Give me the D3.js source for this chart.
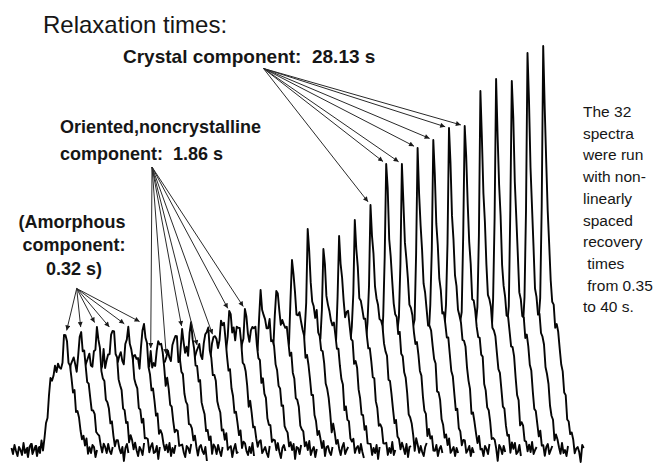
<!DOCTYPE html>
<html>
<head>
<meta charset="utf-8">
<script src="https://cdn.jsdelivr.net/npm/d3@7"></script>
<style>
  html, body { margin: 0; padding: 0; background: #fff; }
  svg { display: block; font-family: "Liberation Sans", Arial, sans-serif; }
</style>
</head>
<body>
<svg id="chart" width="658" height="471"></svg>
<script>
// ---- data ---------------------------------------------------------------
// 32 spectra, index 0 = shortest recovery time (front of the stack)
const spectrumIndex = d3.range(32);

// height of the sharp crystalline line in each spectrum (intensity units)
const crystalHeight = [87, 92, 95, 98, 100, 98, 92, 100, 116, 106, 120, 144, 141, 162, 168, 195,
                       218, 198, 210, 228, 243, 290, 282, 297, 310, 322, 330, 354, 364, 371, 394, 397];
// level of the broad (oriented, noncrystalline) band
const broadLevel = [75, 76, 78, 79, 80, 80, 82, 84, 86, 88, 90, 92, 94, 96, 98, 100,
                    102, 104, 106, 108, 110, 112, 114, 116, 118, 119, 120, 122, 123, 124, 125, 126];
// extra height of the amorphous shoulder above the broad band
const amorphousHeight = [42, 43, 40, 44, 41, 46, 30, 33, 34, 34, 42, 30, 28, 28, 26, 26,
                         24, 22, 22, 20, 20, 18, 18, 16, 16, 14, 14, 12, 12, 10, 10, 10];

// component lineshapes on the 58-point grid of one spectrum (point 30 = crystalline line)
const broadShape = [0,0,0,0,0,0,0,0,0,0, 0,0,0,0,0,0,0,0,0,0,
                    0.02,0.06,0.16,0.32,0.52,0.72,0.88,0.96,1,1,
                    1,0.98,0.96,0.97,0.99,1,1,1,0.99,0.96,
                    0.9,0.82,0.72,0.6,0.48,0.38,0.29,0.21,0.15,0.1,
                    0.06,0.03,0.01,0,0,0,0,0];
const amorphousShape = [0,0,0,0,0,0,0,0,0,0, 0,0,0,0,0,0,0,0,0,0,
                        0,0,0,0,0,0,0,0,0,0, 0,0,0,0.1,0.35,0.75,1,0.8,0.45,0.2,
                        0.08,0,0,0,0,0,0,0,0,0, 0,0,0,0,0,0,0,0];
const crystalShape = [0,0,0,0,0,0,0,0,0,0, 0,0,0,0,0,0,0,0,0,0,
                      0,0,0,0,0,0,0,0.03,0.1,0.45,
                      1,0.82,0.62,0.45,0.27,0.13,0.06,0.02,0,0,
                      0,0,0,0,0,0,0,0,0,0, 0,0,0,0,0,0,0,0];
const CENTER = 30;

// baseline noise track shared by the spectra
const noise = [2,-4,5,-1,-6,3,0,-5,7,-3,1,-7,3,6,-4,0,4,-6,2,-3,8,-5,0,3,-7,1,6,-3,-2,4,
               -9,3,3,-1,-5,7,-3,0,-6,4,1,-4,6,-7,3,4,-2,-5,3,-3,7,-6,2,-3,5,3,-7,0,3,-2,
               -12,5,2,-4,4,-2,-6,3,7,-4,0,3,-3,-7,4,2,-3,6,-1,-4,3,-10,4,0,7,-4,-2,5,-6,1,
               4,-3,6,-2,-8,2,5,-1,-4,3,-11,2,6,-3,1,-5,4,-2,8,-4,0,3,-6,2,-3,5,-9,3];

// spectra pointed at by each annotation
const amorphousTargets = [0, 1, 2, 3, 4, 5];
const orientedTargets = [6, 7, 8, 9, 10, 11, 12];
const crystalTargets = [20, 21, 22, 23, 24, 25, 26];

const noteLines = ["The 32", "spectra", "were run", "with non-", "linearly", "spaced",
                   "recovery", " times", " from 0.35", "to 40 s."];

// ---- layout -------------------------------------------------------------
const SHIFT = 10.467;            // grid points between successive spectra
const svg = d3.select("#chart");
const W = 658, H = 471;

const x = d3.scaleLinear().domain([0, 31 * SHIFT]).range([56.5, 543.2]);
const y = d3.scaleLinear().domain([0, 400]).range([450, 50]);

function spectrumPoints(i) {
  const crys = crystalHeight[i] - broadLevel[i];
  return broadShape.map((b, k) => ({
    u: i * SHIFT + (k - CENTER),
    v: broadLevel[i] * b + amorphousHeight[i] * amorphousShape[k] +
       crys * crystalShape[k] + noise[(k + i * 23) % noise.length]
  }));
}
const spectra = spectrumIndex.map(spectrumPoints);

const line = d3.line().x(d => x(d.u)).y(d => y(d.v));
const area = d3.area().x(d => x(d.u)).y0(H).y1(d => y(d.v));

// back spectra first; each one hides what lies beneath it
const stack = svg.append("g");
spectrumIndex.slice().reverse().forEach(i => {
  const pts = spectra[i];
  const g = stack.append("g");
  g.append("path").attr("d", area(pts)).attr("fill", "#fff");
  g.append("path").attr("d", line(pts))
    .attr("fill", "none").attr("stroke", "#050505")
    .attr("stroke-width", 1.9).attr("stroke-linejoin", "round");
});

// ---- annotations --------------------------------------------------------
svg.append("defs").append("marker")
  .attr("id", "head").attr("viewBox", "0 0 10 10")
  .attr("refX", 10).attr("refY", 5)
  .attr("markerWidth", 6).attr("markerHeight", 5)
  .attr("markerUnits", "userSpaceOnUse").attr("orient", "auto")
  .append("path").attr("d", "M0,0L10,5L0,10z").attr("fill", "#1a1a1a");

function arrow(x0, y0, p, gap) {
  const x1 = x(p.u), y1 = y(p.v);
  const dx = x1 - x0, dy = y1 - y0, len = Math.hypot(dx, dy);
  svg.append("line")
    .attr("x1", x0).attr("y1", y0)
    .attr("x2", x1 - dx / len * gap).attr("y2", y1 - dy / len * gap)
    .attr("stroke", "#2a2a2a").attr("stroke-width", 1)
    .attr("marker-end", "url(#head)");
}

amorphousTargets.forEach(i => arrow(76.7, 288.5, spectra[i][36], 5));
orientedTargets.forEach(i => arrow(152, 167, spectra[i][CENTER], 3));
crystalTargets.forEach(i => arrow(263.5, 68.5, spectra[i][CENTER], 4));

const text = (tx, ty, s, size, weight, anchor) =>
  svg.append("text").attr("x", tx).attr("y", ty)
    .attr("font-size", size).attr("font-weight", weight || "normal")
    .attr("text-anchor", anchor || "start")
    .attr("fill", "#161616").style("white-space", "pre").text(s);

text(43, 33, "Relaxation times:", 24);
text(123, 63, "Crystal component:  28.13 s", 19, "bold");
text(60, 133, "Oriented,noncrystalline", 18, "bold");
text(60, 160, "component:  1.86 s", 18, "bold");
text(72, 228, "(Amorphous", 18, "bold", "middle");
text(74, 251, "component:", 18, "bold", "middle");
text(74, 275, "0.32 s)", 18, "bold", "middle");

noteLines.forEach((s, j) => text(583, 117 + j * 21.7, s, 15.5));
</script>
</body>
</html>
